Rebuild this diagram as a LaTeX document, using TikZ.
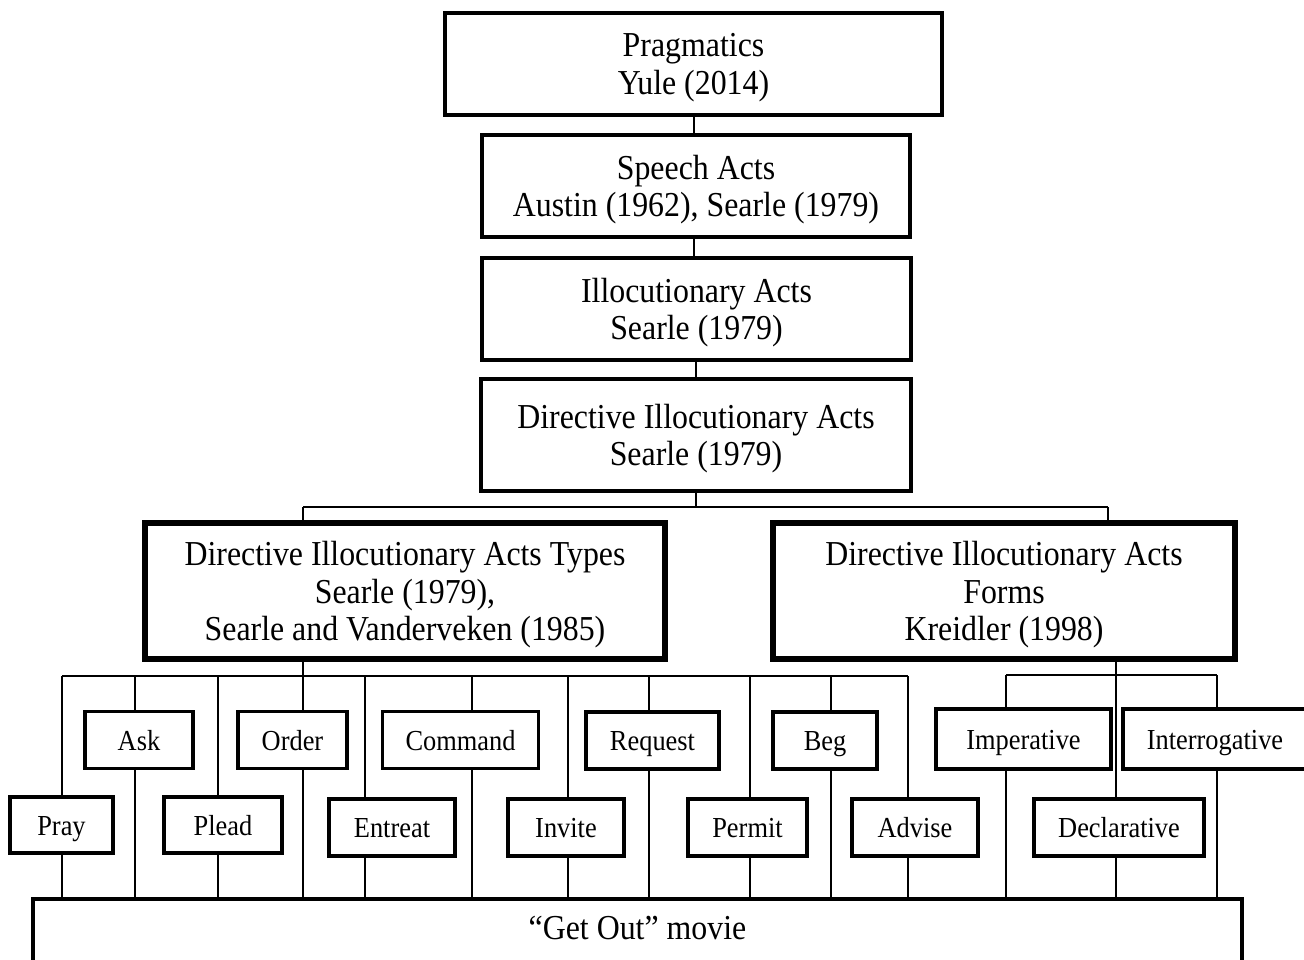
\documentclass[tikz,border=0pt]{standalone}
\usepackage{fontspec}
\setmainfont{Liberation Serif}[FakeStretch=0.91]
\begin{document}
\begin{tikzpicture}[x=1pt,y=-1pt,
  bigbox/.style={draw, line width=3.5pt, align=center, inner sep=0pt, text depth=0pt, font=\fontsize{35}{37.5}\selectfont},
  thickbox/.style={bigbox, line width=5.5pt},
  smallbox/.style={draw, line width=3.5pt, align=center, inner sep=0pt, minimum height=57pt, text height=20pt, text depth=0pt, font=\fontsize{29}{32}\selectfont},
  conn/.style={line width=2pt},
  txt/.style={inner sep=0pt, font=\fontsize{35}{37.5}\selectfont}]
\clip (0,0) rectangle (1304,960);
\useasboundingbox (0,0) rectangle (1304,960);
% top chain
\node[bigbox, minimum width=497pt, minimum height=102pt] (prag) at (693.5,64) {Pragmatics\\Yule (2014)};
\node[bigbox, minimum width=428pt, minimum height=102pt] (speech) at (696,186) {Speech Acts\\Austin (1962), Searle (1979)};
\node[bigbox, minimum width=429pt, minimum height=102pt] (illoc) at (696.5,309) {Illocutionary Acts\\Searle (1979)};
\node[bigbox, minimum width=430pt, minimum height=112pt] (dir) at (696,435) {Directive Illocutionary Acts\\Searle (1979)};
\node[thickbox, minimum width=520pt, minimum height=136pt] (types) at (405,591) {Directive Illocutionary Acts Types\\Searle (1979),\\Searle and Vanderveken (1985)};
\node[thickbox, minimum width=462pt, minimum height=136pt] (forms) at (1004,591) {Directive Illocutionary Acts\\Forms\\Kreidler (1998)};
% upper row small boxes
\node[smallbox, minimum width=108pt] (ask) at (139,740) {Ask};
\node[smallbox, minimum width=109pt] (order) at (292.5,740) {Order};
\node[smallbox, minimum width=156pt] (command) at (460.5,740) {Command};
\node[smallbox, minimum width=133pt] (request) at (652.5,740.5) {Request};
\node[smallbox, minimum width=104pt] (beg) at (825,740.5) {Beg};
\node[smallbox, minimum width=175pt, minimum height=60pt] (imper) at (1023.5,739) {Imperative};
\node[smallbox, minimum width=184pt, minimum height=60pt] (interr) at (1215,739) {Interrogative};
% lower row small boxes
\node[smallbox, minimum width=103pt, minimum height=56pt] (pray) at (61.5,825) {Pray};
\node[smallbox, minimum width=118pt, minimum height=56pt] (plead) at (223,825) {Plead};
\node[smallbox, minimum width=126pt] (entreat) at (392,827.5) {Entreat};
\node[smallbox, minimum width=116pt] (invite) at (566,827.5) {Invite};
\node[smallbox, minimum width=119pt] (permit) at (747.5,827.5) {Permit};
\node[smallbox, minimum width=126pt] (advise) at (915,827.5) {Advise};
\node[smallbox, minimum width=170pt] (decl) at (1119,827.5) {Declarative};
% bottom box
\node[draw, line width=4pt, minimum width=1209pt, minimum height=100pt, anchor=north, inner sep=0pt] (movie) at (637.5,897) {};
\node[txt] (movietext) at (637.5,928) {“Get Out” movie};
% bus coordinates
\coordinate (dbus) at (696,507);
\coordinate (dbL) at (303,507);
\coordinate (dbR) at (1108,507);
\coordinate (tbus) at (303,676);
\coordinate (tbL) at (62,676);
\coordinate (tbR) at (908,676);
\coordinate (fbus) at (1116,675);
\coordinate (fbL) at (1006,675);
\coordinate (fbR) at (1217,675);
% top chain connectors
\draw[conn] (prag.south -| 694,0) -- (speech.north -| 694,0);
\draw[conn] (speech.south -| 694,0) -- (illoc.north -| 694,0);
\draw[conn] (illoc.south -| 696,0) -- (dir.north -| 696,0);
\draw[conn] (dir.south) -- (dbus);
\draw[conn] (dbL) -- (dbR);
\draw[conn] (dbL) -- (dbL |- types.north);
\draw[conn] (dbR) -- (dbR |- forms.north);
% types bus
\draw[conn] (types.south -| tbus) -- (tbus);
\draw[conn] (tbL) -- (tbR);
% columns: x positions
\foreach \nm/\xx in {pray/62, ask/135, plead/218, order/303, entreat/365, command/472, invite/568, request/649, permit/750, beg/831, advise/908}{
  \draw[conn] (\xx,676) -- (\nm.north -| \xx,0);
  \draw[conn] (\nm.south -| \xx,0) -- (\xx,897);
}
% forms bus
\draw[conn] (forms.south -| fbus) -- (fbus);
\draw[conn] (fbL) -- (fbR);
\draw[conn] (fbus) -- (decl.north -| fbus);
\draw[conn] (fbL) -- (imper.north -| fbL);
\draw[conn] (fbR) -- (interr.north -| fbR);
\draw[conn] (imper.south -| fbL) -- (fbL |- movie.north);
\draw[conn] (decl.south -| fbus) -- (fbus |- movie.north);
\draw[conn] (interr.south -| fbR) -- (fbR |- movie.north);
\end{tikzpicture}
\end{document}
